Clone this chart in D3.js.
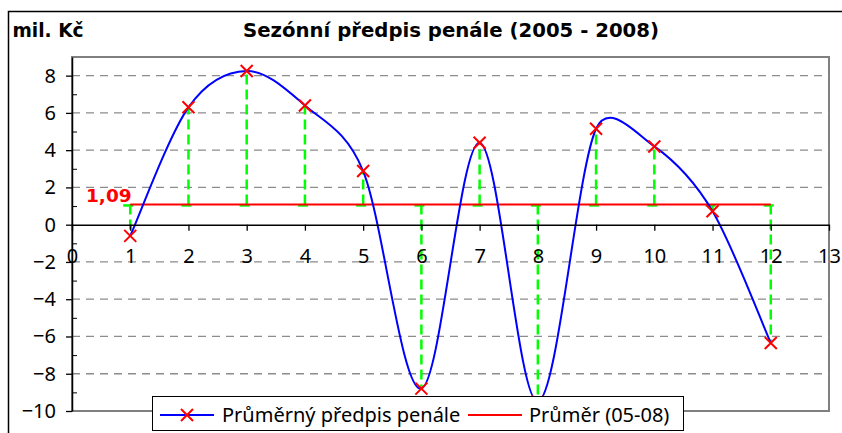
<!DOCTYPE html>
<html>
<head>
<meta charset="utf-8">
<script src="https://cdn.jsdelivr.net/npm/d3@7"></script>
<style>
  body { margin: 0; background: #fff; }
  svg { display: block; }
  text { font-family: "Noto Sans", "DejaVu Sans", sans-serif; fill: #000; }
  .bold { font-family: "DejaVu Sans", sans-serif; font-weight: bold; }
</style>
</head>
<body>
<script>
// DATA
var months = [1, 2, 3, 4, 5, 6, 7, 8, 9, 10, 11, 12];
var predpis = [-0.6, 6.3, 8.25, 6.4, 2.88, -8.8, 4.4, -9.5, 5.15, 4.2, 0.72, -6.35];
var xTicks = [0, 1, 2, 3, 4, 5, 6, 7, 8, 9, 10, 11, 12, 13];
var yTicks = [-10, -8, -6, -4, -2, 0, 2, 4, 6, 8];
var yMinor = [-9, -7, -5, -3, -1, 1, 3, 5, 7];
var seriesNames = ["Průměrný předpis penále", "Průměr (05-08)"];
var chartTitle = "Sezónní předpis penále (2005 - 2008)";
var unitLabel = "mil. Kč";

var prumer = d3.mean(predpis);

// smoothing like the spreadsheet: Catmull-Rom tangents,
// control arm kept to half of the chord it belongs to
function arm(p, tx, ty, chord) {
    var k = 1 / 6;
    var len = Math.hypot(tx, ty) * k;
    if (len > chord / 2) k *= (chord / 2) / len;
    return [p[0] + tx * k, p[1] + ty * k];
}
function SmoothCurve(context) { this._context = context; }
SmoothCurve.prototype = {
    areaStart: function() {},
    areaEnd: function() {},
    lineStart: function() { this._pts = []; },
    point: function(px, py) { this._pts.push([+px, +py]); },
    lineEnd: function() {
        var p = this._pts, c = this._context, n = p.length;
        if (!n) return;
        c.moveTo(p[0][0], p[0][1]);
        for (var i = 0; i < n - 1; i++) {
            var a = p[Math.max(i - 1, 0)], b = p[i], d = p[i + 1], e = p[Math.min(i + 2, n - 1)];
            var chord = Math.hypot(d[0] - b[0], d[1] - b[1]);
            var c1 = arm(b, d[0] - a[0], d[1] - a[1], chord);
            var c2 = arm(d, b[0] - e[0], b[1] - e[1], chord);
            c.bezierCurveTo(c1[0], c1[1], c2[0], c2[1], d[0], d[1]);
        }
    }
};
function smoothCurve(context) { return new SmoothCurve(context); }

// SVG
var svg = d3.select("body")
    .append("svg")
    .attr("width", 842)
    .attr("height", 433);

const plot = {left: 72, right: 829, top: 57, bottom: 411};

const x = d3.scaleLinear()
    .domain([0, 13])
    .range([plot.left, plot.right]);

const y = d3.scaleLinear()
    .domain([-10, 9])
    .range([plot.bottom, plot.top]);

// outer chart border (runs off the picture right and bottom)
svg.append("rect")
    .attr("x", 8.5).attr("y", 11.5)
    .attr("width", 900).attr("height", 500)
    .attr("fill", "none")
    .attr("stroke", "#000")
    .attr("stroke-width", 1.5);

// titles
svg.append("text")
    .attr("class", "bold")
    .attr("x", 451).attr("y", 37)
    .attr("text-anchor", "middle")
    .style("font-size", "19.7px")
    .text(chartTitle);

svg.append("text")
    .attr("class", "bold")
    .attr("x", 12.5).attr("y", 37)
    .style("font-size", "18.6px")
    .text(unitLabel);

// plot frame
svg.append("rect")
    .attr("x", plot.left).attr("y", plot.top)
    .attr("width", plot.right - plot.left)
    .attr("height", plot.bottom - plot.top)
    .attr("fill", "#fff")
    .attr("stroke", "#808080")
    .attr("stroke-width", 2);

// gridlines
svg.append("g")
    .selectAll("line")
    .data(yTicks.filter(d => d !== 0 && d !== -10))
    .enter()
    .append("line")
    .attr("x1", plot.left).attr("x2", plot.right)
    .attr("y1", d => y(d)).attr("y2", d => y(d))
    .attr("stroke", "#8c8c8c")
    .attr("stroke-width", 1.3)
    .attr("stroke-dasharray", "8,6");

// clip for series
svg.append("clipPath").attr("id", "plotclip")
    .append("rect")
    .attr("x", plot.left).attr("y", plot.top)
    .attr("width", plot.right - plot.left)
    .attr("height", plot.bottom - plot.top);

const series = svg.append("g").attr("clip-path", "url(#plotclip)");

// green drop lines from average to value, cap at average
const bars = series.append("g")
    .attr("stroke", "#00ff00")
    .attr("stroke-width", 2.5)
    .attr("stroke-dasharray", "10,5")
    .attr("fill", "none");

bars.selectAll("line.v").data(months)
    .enter().append("line").attr("class", "v")
    .attr("x1", d => x(d)).attr("x2", d => x(d))
    .attr("y1", y(prumer))
    .attr("y2", (d, i) => y(predpis[i]));

bars.selectAll("line.c").data(months)
    .enter().append("line").attr("class", "c")
    .attr("x1", d => x(d) - 7).attr("x2", d => x(d) + 7)
    .attr("y1", y(prumer) + 1).attr("y2", y(prumer) + 1);

// average line
series.append("path")
    .datum(months)
    .attr("d", d3.line().x(d => x(d)).y(y(prumer)))
    .attr("fill", "none")
    .attr("stroke", "#ff0000")
    .attr("stroke-width", 2);

// smoothed series
series.append("path")
    .datum(months)
    .attr("d", d3.line()
        .x(d => x(d))
        .y((d, i) => y(predpis[i]))
        .curve(smoothCurve))
    .attr("fill", "none")
    .attr("stroke", "#0000ff")
    .attr("stroke-width", 2);

const cross = "M-6,-6L6,6M-6,6L6,-6";
series.selectAll("path.mk").data(months)
    .enter().append("path").attr("class", "mk")
    .attr("transform", (d, i) => "translate(" + x(d) + "," + y(predpis[i]) + ")")
    .attr("d", cross)
    .attr("stroke", "#ff0000")
    .attr("stroke-width", 2);

// y axis
const yAxis = svg.append("g")
    .attr("transform", "translate(" + plot.left + ",0)")
    .call(d3.axisLeft(y).tickValues(yTicks).tickSize(6).tickSizeOuter(0).tickPadding(10));
yAxis.select(".domain").attr("stroke", "#000").attr("stroke-width", 1.5);
yAxis.selectAll(".tick line").attr("stroke-width", 1.3);
yAxis.selectAll("text").style("font-size", "20px").attr("fill", "#000");

svg.append("g")
    .attr("transform", "translate(" + plot.left + ",0)")
    .call(d3.axisLeft(y).tickValues(yMinor).tickSize(-5).tickFormat(""))
    .call(g => g.select(".domain").remove());

// x axis crossing at 0
const xAxis = svg.append("g")
    .attr("transform", "translate(0," + y(0) + ")")
    .call(d3.axisBottom(x).tickValues(xTicks).tickSize(6).tickSizeOuter(0).tickPadding(18));
xAxis.select(".domain").attr("stroke", "#000").attr("stroke-width", 1.5);
xAxis.selectAll(".tick line").attr("stroke-width", 1.3);
xAxis.selectAll("text").style("font-size", "20px").attr("fill", "#000");

// average label
svg.append("text")
    .attr("class", "bold")
    .attr("x", 86).attr("y", 202)
    .style("font-size", "18.5px")
    .style("fill", "#ff0000")
    .text(d3.format(".2f")(prumer).replace(".", ","));

// legend
const legend = svg.append("g");
legend.append("rect")
    .attr("x", 152.5).attr("y", 396.5)
    .attr("width", 531).attr("height", 34)
    .attr("fill", "#fff")
    .attr("stroke", "#000")
    .attr("stroke-width", 1);

legend.append("line")
    .attr("x1", 160).attr("x2", 214).attr("y1", 415).attr("y2", 415)
    .attr("stroke", "#0000ff").attr("stroke-width", 2);
legend.append("path")
    .attr("transform", "translate(187,415)")
    .attr("d", cross)
    .attr("stroke", "#ff0000").attr("stroke-width", 2);
legend.append("text")
    .attr("x", 222).attr("y", 422)
    .style("font-size", "20px")
    .text(seriesNames[0]);

legend.append("line")
    .attr("x1", 468).attr("x2", 522).attr("y1", 415).attr("y2", 415)
    .attr("stroke", "#ff0000").attr("stroke-width", 2);
legend.append("text")
    .attr("x", 529).attr("y", 422)
    .style("font-size", "20px")
    .text(seriesNames[1]);
</script>
</body>
</html>
